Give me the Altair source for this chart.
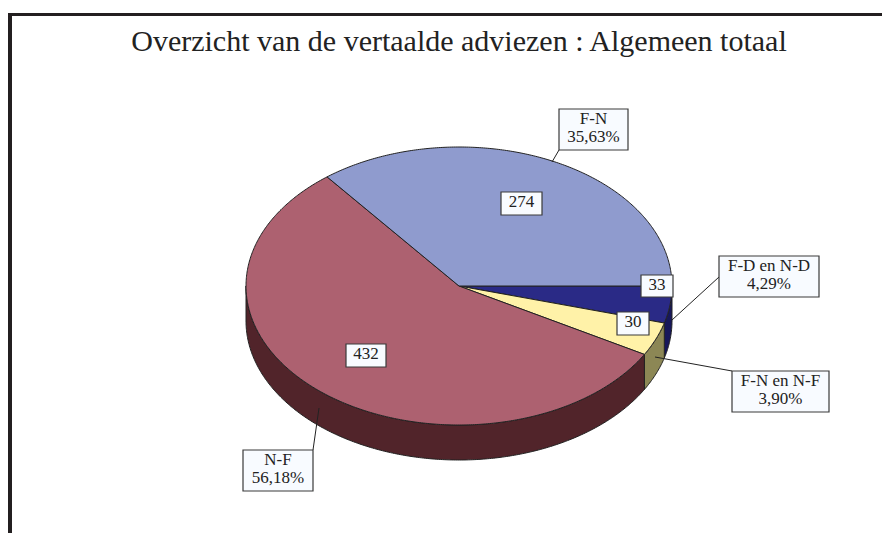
import math
import altair as alt
import pandas as pd

# --- chart values
title_text = "Overzicht van de vertaalde adviezen : Algemeen totaal"
names = ["F-D en N-D", "F-N en N-F", "N-F", "F-N"]
counts = [33, 30, 432, 274]
percent_labels = ["4,29%", "3,90%", "56,18%", "35,63%"]
top_colors = ["#2A2A86", "#FFF2A8", "#AD6170", "#8F9BCE"]
side_colors = ["#17175A", "#8C8755", "#51242A", "#5A6283"]

# --- layout (page pixels)
PAGE = 8
W, H = 874, 525
CX, CY, RX, RY, DEPTH = 459, 286, 213, 139, 35
callout_boxes = [(719, 256, 819, 297), (732, 371, 829, 412), (243, 450, 313, 491), (559, 109, 628, 150)]
value_boxes = [(641, 275, 673, 297), (617, 312, 649, 335), (346, 344, 386, 367), (501, 192, 542, 215)]
leaders = [(719, 277, 672, 320), (732, 371, 655, 357), (313, 450, 319, 408), (559, 150, 552, 162)]
frame = [(8, 13, 890, 16), (8, 13, 12, 541)]


def pt(t, dy=0):
    return [CX + RX * math.cos(t) - PAGE, CY + RY * math.sin(t) + dy - PAGE]


def arc(a, b, dy=0):
    n = max(2, int(abs(b - a) / 0.01))
    return [pt(a + (b - a) * i / n, dy) for i in range(n + 1)]


total = sum(counts)
edges = [0.0]
for c in counts:
    edges.append(edges[-1] + 2 * math.pi * c / total)

tops, sides = [], []
for i, name in enumerate(names):
    a, b = edges[i], edges[i + 1]
    ring = [[CX - PAGE, CY - PAGE]] + arc(a, b) + [[CX - PAGE, CY - PAGE]]
    tops.append({"type": "Feature", "properties": {"name": name},
                 "geometry": {"type": "Polygon", "coordinates": [ring]}})
    if a < math.pi:
        e = min(b, math.pi)
        ring = arc(a, e) + arc(a, e, DEPTH)[::-1]
        ring.append(ring[0])
        sides.append({"type": "Feature", "properties": {"name": name},
                      "geometry": {"type": "Polygon", "coordinates": [ring]}})

proj = alt.Projection(type="identity", scale=1, translate=[0, 0])
SX = alt.Scale(domain=[0, W], range=[0, W])
SY = alt.Scale(domain=[0, H], range=[0, H])
INK = "#222222"


def xq(f):
    return alt.X(f, type="quantitative", scale=SX, axis=None)


def yq(f):
    return alt.Y(f, type="quantitative", scale=SY, axis=None)


def shapes(features, colors):
    return alt.Chart(alt.Data(values=features)).mark_geoshape(
        stroke=INK, strokeWidth=1
    ).encode(
        color=alt.Color("properties.name:N", legend=None,
                        scale=alt.Scale(domain=names, range=colors))
    ).project(**proj.to_dict())


rows_frame = pd.DataFrame([{"x": a - PAGE, "x2": min(c - PAGE, W), "y": b - PAGE, "y2": min(d - PAGE, H)}
                           for a, b, c, d in frame])
frame_layer = alt.Chart(rows_frame).mark_rect(color="#231F20").encode(
    x=xq("x"), x2="x2", y=yq("y"), y2="y2")

rows_lead = pd.DataFrame([{"x": a - PAGE, "x2": c - PAGE, "y": b - PAGE, "y2": d - PAGE} for a, b, c, d in leaders])
lead_layer = alt.Chart(rows_lead).mark_rule(color=INK, strokeWidth=1).encode(
    x=xq("x"), x2="x2", y=yq("y"), y2="y2")

rows_box = pd.DataFrame([{"x": a - PAGE, "x2": c - PAGE, "y": b - PAGE, "y2": d - PAGE}
                         for a, b, c, d in callout_boxes + value_boxes])
box_layer = alt.Chart(rows_box).mark_rect(fill="#F8FBFF", stroke="#3A3A3A", strokeWidth=1.2).encode(
    x=xq("x"), x2="x2", y=yq("y"), y2="y2")

rows_text = []
for (a, b, c, d), name, pct, cnt, vb in zip(callout_boxes, names, percent_labels, counts, value_boxes):
    mid = (a + c) / 2 - PAGE
    rows_text.append({"x": mid, "y": b + 14.5 - PAGE, "t": name})
    rows_text.append({"x": mid, "y": b + 32.5 - PAGE, "t": pct})
    rows_text.append({"x": (vb[0] + vb[2]) / 2 - PAGE, "y": vb[1] + 15 - PAGE, "t": str(cnt)})
text_layer = alt.Chart(pd.DataFrame(rows_text)).mark_text(
    font="Liberation Serif", fontSize=17, color=INK, baseline="alphabetic", align="center"
).encode(x=xq("x"), y=yq("y"), text="t:N")

title_layer = alt.Chart(pd.DataFrame([{"x": 459 - PAGE, "y": 51 - PAGE, "t": title_text}])).mark_text(
    font="Liberation Serif", fontSize=30, color=INK, baseline="alphabetic", align="center"
).encode(x=xq("x"), y=yq("y"), text="t:N")

sides_layer = shapes(sides, side_colors)
tops_layer = shapes(tops, top_colors)

chart = alt.layer(
    sides_layer, tops_layer, frame_layer, lead_layer, box_layer, text_layer, title_layer
).resolve_scale(color="independent").properties(
    width=W, height=H, padding=0, background="white",
    autosize=alt.AutoSizeParams(type="none")
).configure_view(stroke=None)

chart.save("out.html", embed_options={"renderer": "svg", "actions": False})
